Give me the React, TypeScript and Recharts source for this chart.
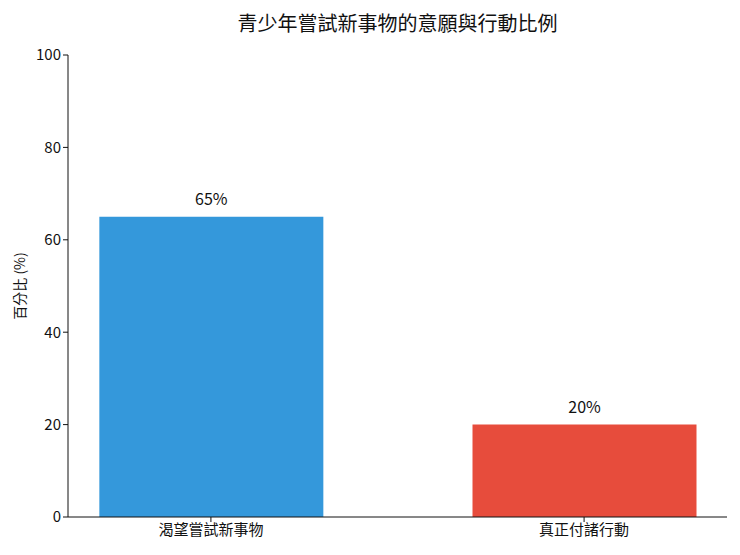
import React from 'react';
import { BarChart, Bar, XAxis, YAxis, Cell, LabelList } from 'recharts';

const categories = ['渴望嘗試新事物', '真正付諸行動'];
const positions = [0, 1];
const percentages = [65, 20];
const barColors = ['#3498db', '#e74c3c'];
const yTicks = [0, 20, 40, 60, 80, 100];

const data = categories.map((name, i) => ({
  name,
  pos: positions[i],
  value: percentages[i],
}));

const FONT = '"Noto Sans CJK TC", "Noto Sans", sans-serif';

export default function App() {
  return (
    <div style={{ position: 'relative', width: 740, height: 555, fontFamily: FONT, background: '#fff' }}>
      <style>{`body{margin:0}`}</style>
      <div
        style={{
          position: 'absolute',
          left: 68,
          width: 659,
          top: 8,
          textAlign: 'center',
          fontSize: 20,
          color: '#111',
        }}
      >
        青少年嘗試新事物的意願與行動比例
      </div>
      <BarChart
        width={740}
        height={555}
        data={data}
        margin={{ top: 55, right: 13, bottom: 0, left: 0 }}
      >
        <XAxis
          dataKey="pos"
          type="number"
          domain={[-0.383, 1.383]}
          ticks={positions}
          tickFormatter={(v) => categories[v]}
          height={38}
          stroke="#111"
          tick={{ fill: '#111', fontSize: 15, fontFamily: FONT }}
          tickSize={5}
          allowDataOverflow
        />
        <YAxis
          domain={[0, 100]}
          ticks={yTicks}
          width={68}
          stroke="#111"
          tick={{ fill: '#111', fontSize: 15, fontFamily: FONT }}
          tickSize={5}
          label={{
            value: '百分比 (%)',
            angle: -90,
            position: 'insideLeft',
            offset: 20,
            style: { textAnchor: 'middle', fill: '#111', fontSize: 14, fontFamily: FONT },
          }}
        />
        <Bar dataKey="value" barSize={224} isAnimationActive={false}>
          {data.map((d, i) => (
            <Cell key={d.name} fill={barColors[i]} />
          ))}
          <LabelList
            dataKey="value"
            position="top"
            offset={12}
            formatter={(v: number) => `${v}%`}
            style={{ fill: '#111', fontSize: 16, fontFamily: FONT }}
          />
        </Bar>
      </BarChart>
    </div>
  );
}
